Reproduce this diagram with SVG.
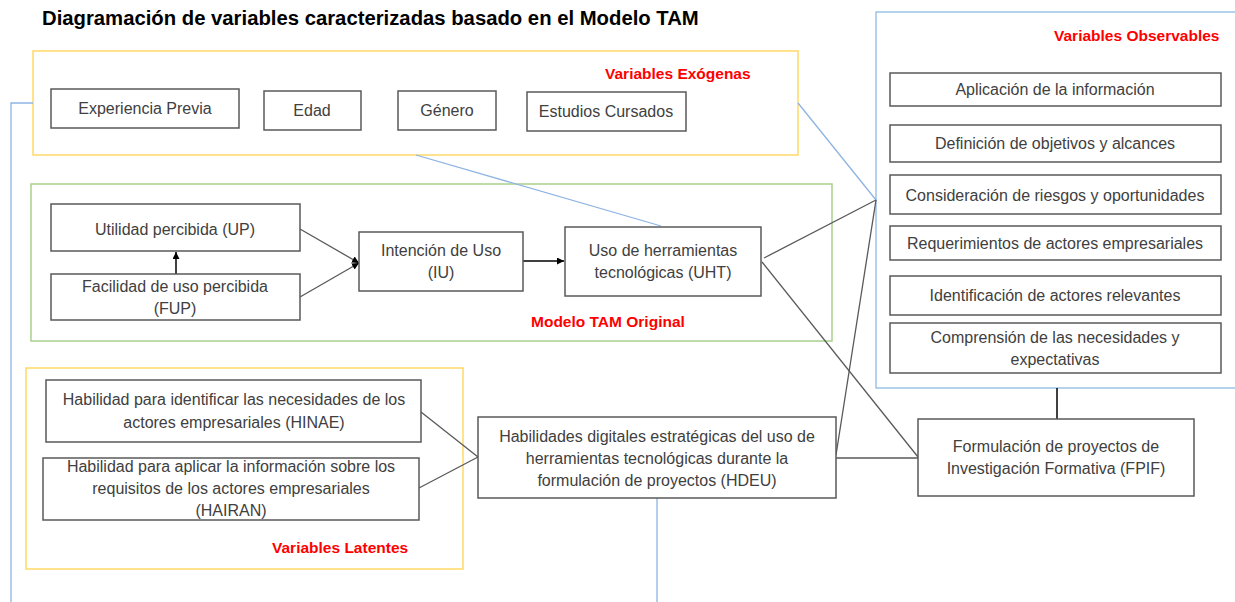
<svg xmlns="http://www.w3.org/2000/svg" width="1235" height="602" viewBox="0 0 1235 602">
<style>
text{font-family:"Liberation Sans",Arial,sans-serif;}
.t{font-size:16px;fill:#404040;text-anchor:middle;}
.lbl{font-size:15.5px;font-weight:bold;fill:#ff0000;}
.node{fill:#fff;stroke:#595959;stroke-width:1.5;}
.grpY{fill:none;stroke:#ffd966;stroke-width:1.5;}
.grpG{fill:none;stroke:#a9d18e;stroke-width:1.5;}
.grpB{fill:none;stroke:#9dc3e6;stroke-width:1.5;}
.c{fill:none;stroke:#595959;stroke-width:1.3;}
.cb{fill:none;stroke:#8eb4e3;stroke-width:1.3;}
.ck{fill:none;stroke:#000;stroke-width:1.5;}
</style>
<defs>
<marker id="ah" viewBox="0 0 10 10" refX="10" refY="5" markerWidth="7" markerHeight="7" markerUnits="userSpaceOnUse" orient="auto">
<path d="M0,0 L10,5 L0,10 z" fill="#000"/>
</marker>
</defs>
<rect width="1235" height="602" fill="#fff"/>
<text x="42" y="25" style="font-size:20.3px;font-weight:bold;fill:#000">Diagramación de variables caracterizadas basado en el Modelo TAM</text>

<g id="groups">
<rect class="grpY" x="33" y="51" width="765" height="104"/>
<rect class="grpG" x="31" y="184" width="801" height="157"/>
<rect class="grpB" x="876" y="12" width="362" height="376"/>
<rect class="grpY" x="26" y="368" width="437" height="201"/>
<text class="lbl" x="605" y="79">Variables Exógenas</text>
<text class="lbl" x="1054" y="41">Variables Observables</text>
<text class="lbl" x="531" y="327">Modelo TAM Original</text>
<text class="lbl" x="272" y="553">Variables Latentes</text>
</g>

<g id="connectors">
<polyline class="cb" points="33,103 11,103 11,602"/>
<line class="cb" x1="416" y1="155" x2="661" y2="226"/>
<line class="cb" x1="798" y1="103" x2="876" y2="200"/>
<line class="cb" x1="657" y1="498" x2="657" y2="602"/>
<line class="ck" x1="176" y1="274" x2="176" y2="252" marker-end="url(#ah)"/>
<line class="c" x1="300" y1="229" x2="359" y2="263" marker-end="url(#ah)"/>
<line class="c" x1="300" y1="297" x2="359" y2="263" marker-end="url(#ah)"/>
<line class="ck" x1="523" y1="261" x2="564" y2="261" marker-end="url(#ah)"/>
<line class="c" x1="764" y1="258" x2="876" y2="200"/>
<line class="c" x1="762" y1="262" x2="918" y2="457"/>
<line class="c" x1="836" y1="455" x2="876" y2="200"/>
<line class="c" x1="836" y1="458" x2="918" y2="458"/>
<line class="c" x1="421" y1="412" x2="478" y2="457"/>
<line class="c" x1="419" y1="488" x2="478" y2="457"/>
<line class="ck" x1="1057" y1="388" x2="1057" y2="419"/>
</g>

<g id="n-exp"><rect class="node" x="51" y="89" width="188" height="39"/><text class="t" x="145" y="114">Experiencia Previa</text></g>
<g id="n-edad"><rect class="node" x="264" y="91" width="97" height="39"/><text class="t" x="312" y="116">Edad</text></g>
<g id="n-genero"><rect class="node" x="398" y="91" width="98" height="39"/><text class="t" x="447" y="116">Género</text></g>
<g id="n-estudios"><rect class="node" x="527" y="92" width="159" height="39"/><text class="t" x="606" y="117">Estudios Cursados</text></g>

<g id="n-o1"><rect class="node" x="890" y="73" width="331" height="33"/><text class="t" x="1055" y="95">Aplicación de la información</text></g>
<g id="n-o2"><rect class="node" x="890" y="125" width="331" height="37"/><text class="t" x="1055" y="149">Definición de objetivos y alcances</text></g>
<g id="n-o3"><rect class="node" x="890" y="175" width="331" height="39"/><text class="t" x="1055" y="201">Consideración de riesgos y oportunidades</text></g>
<g id="n-o4"><rect class="node" x="890" y="226" width="331" height="34"/><text class="t" x="1055" y="249">Requerimientos de actores empresariales</text></g>
<g id="n-o5"><rect class="node" x="890" y="276" width="331" height="39"/><text class="t" x="1055" y="301">Identificación de actores relevantes</text></g>
<g id="n-o6"><rect class="node" x="890" y="323" width="331" height="50"/><text class="t" x="1055" y="343">Comprensión de las necesidades y</text><text class="t" x="1055" y="365">expectativas</text></g>

<g id="n-up"><rect class="node" x="51" y="204" width="249" height="47"/><text class="t" x="175" y="235">Utilidad percibida (UP)</text></g>
<g id="n-fup"><rect class="node" x="51" y="274" width="249" height="46"/><text class="t" x="175" y="292">Facilidad de uso percibida</text><text class="t" x="175" y="314">(FUP)</text></g>
<g id="n-iu"><rect class="node" x="359" y="232" width="164" height="59"/><text class="t" x="441" y="256">Intención de Uso</text><text class="t" x="441" y="278">(IU)</text></g>
<g id="n-uht"><rect class="node" x="565" y="227" width="196" height="69"/><text class="t" x="663" y="256">Uso de herramientas</text><text class="t" x="663" y="278">tecnológicas (UHT)</text></g>

<g id="n-hinae"><rect class="node" x="46" y="380" width="375" height="62"/><text class="t" x="234" y="405">Habilidad para identificar las necesidades de los</text><text class="t" x="234" y="428">actores empresariales (HINAE)</text></g>
<g id="n-hairan"><rect class="node" x="43" y="458" width="376" height="62"/><text class="t" x="231" y="472">Habilidad para aplicar la información sobre los</text><text class="t" x="231" y="494">requisitos de los actores empresariales</text><text class="t" x="231" y="516">(HAIRAN)</text></g>
<g id="n-hdeu"><rect class="node" x="478" y="417" width="358" height="81"/><text class="t" x="657" y="442">Habilidades digitales estratégicas del uso de</text><text class="t" x="657" y="464">herramientas tecnológicas durante la</text><text class="t" x="657" y="486">formulación de proyectos (HDEU)</text></g>
<g id="n-fpif"><rect class="node" x="918" y="419" width="276" height="77"/><text class="t" x="1056" y="452">Formulación de proyectos de</text><text class="t" x="1056" y="474">Investigación Formativa (FPIF)</text></g>
</svg>
